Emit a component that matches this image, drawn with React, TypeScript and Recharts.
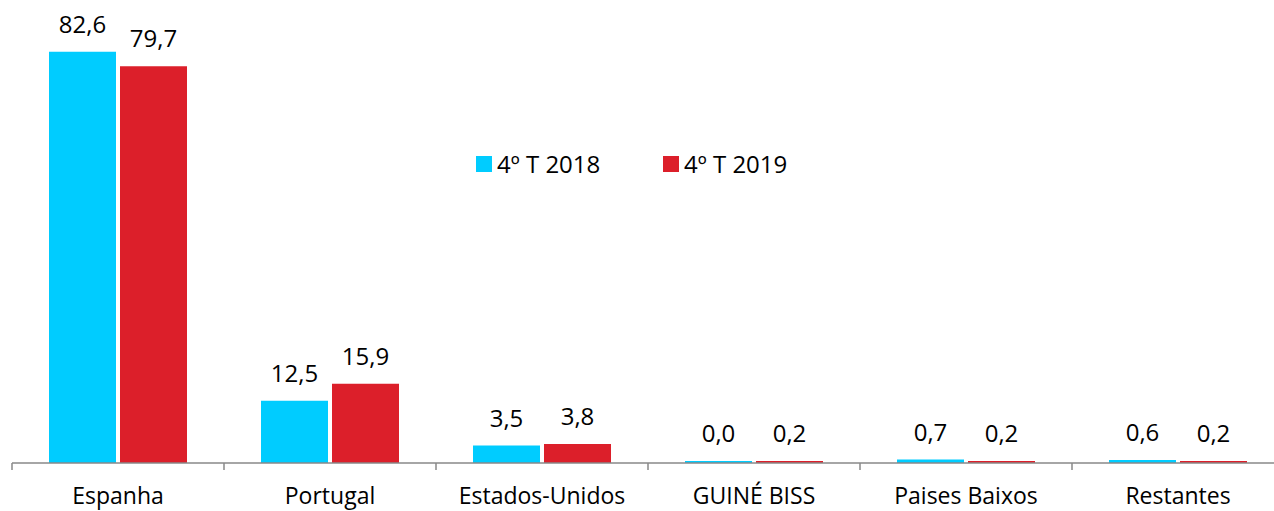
import { BarChart, Bar, XAxis, YAxis, LabelList } from 'recharts';

// categorias e valores (4º trimestre)
const categories = ['Espanha', 'Portugal', 'Estados-Unidos', 'GUINÉ BISS', 'Paises Baixos', 'Restantes'];
const values2018 = [82.6, 12.5, 3.5, 0.0, 0.7, 0.6];
const values2019 = [79.7, 15.9, 3.8, 0.2, 0.2, 0.2];

const series = [
  { key: 't2018', label: '4º T 2018', color: '#00CCFF', values: values2018 },
  { key: 't2019', label: '4º T 2019', color: '#DC1F2A', values: values2019 },
];

const FONT = '"Open Sans", sans-serif';
const CHART_W = 1290;
const CHART_H = 511;
const MARGIN = { top: 15, right: 6, left: 12, bottom: 0 };
const BAND = (CHART_W - MARGIN.left - MARGIN.right) / categories.length;

const data = categories.map((name, i) => ({
  name,
  t2018: values2018[i],
  t2019: values2019[i],
}));

const fmt = (v: number) => v.toFixed(1).replace('.', ',');

// tick label + marca de separação entre categorias
function CategoryTick(props: any) {
  const { x, y, payload } = props;
  const left = x - BAND / 2;
  return (
    <g>
      <line x1={left} x2={left} y1={y - 8} y2={y - 1} stroke='#898989' strokeWidth={1.5} />
      <text
        x={x}
        y={y + 33}
        textAnchor='middle'
        fontSize={23}
        fontFamily={FONT}
        fill='#000'
      >
        {payload.value}
      </text>
    </g>
  );
}

export default function App() {
  return (
    <div
      style={{
        width: 1274,
        height: 511,
        overflow: 'hidden',
        position: 'relative',
        background: '#fff',
      }}
    >
      <style>{'html,body{margin:0;padding:0;overflow:hidden}'}</style>
      <BarChart
        width={CHART_W}
        height={CHART_H}
        data={data}
        margin={MARGIN}
        barSize={67}
        barGap={4}
      >
        <XAxis
          dataKey='name'
          height={48}
          axisLine={{ stroke: '#898989', strokeWidth: 1.5 }}
          tickLine={false}
          tick={<CategoryTick />}
          interval={0}
        />
        <YAxis hide domain={[0, 90]} />
        {series.map((s) => (
          <Bar
            key={s.key}
            dataKey={s.key}
            name={s.label}
            fill={s.color}
            minPointSize={2}
            isAnimationActive={false}
          >
            <LabelList
              dataKey={s.key}
              position='top'
              offset={19}
              formatter={(v: any) => fmt(Number(v))}
              style={{ fontSize: 24, fontFamily: FONT, fill: '#000' }}
            />
          </Bar>
        ))}
      </BarChart>
      <div
        style={{
          position: 'absolute',
          top: 147,
          left: 476,
          display: 'flex',
          fontFamily: FONT,
          fontSize: 24,
          color: '#000',
        }}
      >
        {series.map((s) => (
          <div
            key={s.key}
            style={{ display: 'flex', alignItems: 'center', width: 187 }}
          >
            <span
              style={{
                display: 'inline-block',
                width: 16,
                height: 16,
                background: s.color,
                marginRight: 5,
              }}
            />
            <span>{s.label}</span>
          </div>
        ))}
      </div>
    </div>
  );
}
